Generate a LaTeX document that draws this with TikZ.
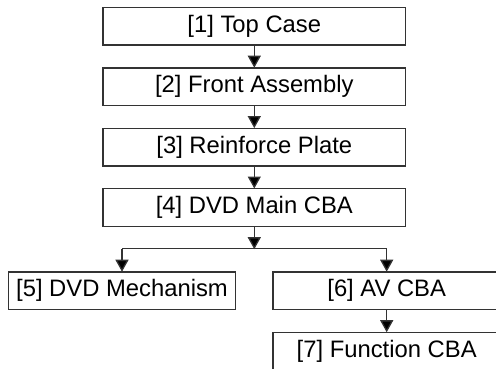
\documentclass[tikz,border=0pt]{standalone}
\usepackage{fontspec}
\setmainfont{Liberation Sans}
\usetikzlibrary{arrows.meta}
\definecolor{linegray}{gray}{0.2}
\begin{document}
\begin{tikzpicture}[x=1pt,y=-1pt,
  box/.style={draw=linegray,line width=1.3pt,minimum height=37.7pt,inner sep=0pt,
    font=\fontsize{23.8}{28}\selectfont,text=black},
  wide/.style={box,minimum width=302.7pt},
  side/.style={box,minimum width=227.4pt},
  conn/.style={draw=linegray,line width=1.3pt},
  arr/.style={conn,-{Triangle[width=13pt,length=12pt,fill=black]},shorten >=-0.5pt}]
\useasboundingbox (0,0) rectangle (496,368);
\node[wide] (n1) at (254.3,26.2) {[1] Top Case};
\node[wide] (n2) at (254.3,86.7) {[2] Front Assembly};
\node[wide] (n3) at (254.3,147.1) {[3] Reinforce Plate};
\node[wide] (n4) at (254.3,207.5) {[4] DVD Main CBA};
\node[side] (n5) at (122,290.7) {[5] DVD Mechanism};
\node[side] (n6) at (386.7,290.7) {[6] AV CBA};
\node[side] (n7) at (386.7,351.2) {[7] Function CBA};
\coordinate (j) at (254.3,248.7);
\coordinate (jl) at (122,248.7);
\coordinate (jr) at (386.7,248.7);
\draw[arr] (n1) -- (n2);
\draw[arr] (n2) -- (n3);
\draw[arr] (n3) -- (n4);
\draw[arr] (n4) -- (j);
\draw[conn] (jl) -- (jr);
\draw[arr] (jl) -- (n5);
\draw[arr] (jr) -- (n6);
\draw[arr] (n6) -- (n7);
\end{tikzpicture}
\end{document}
